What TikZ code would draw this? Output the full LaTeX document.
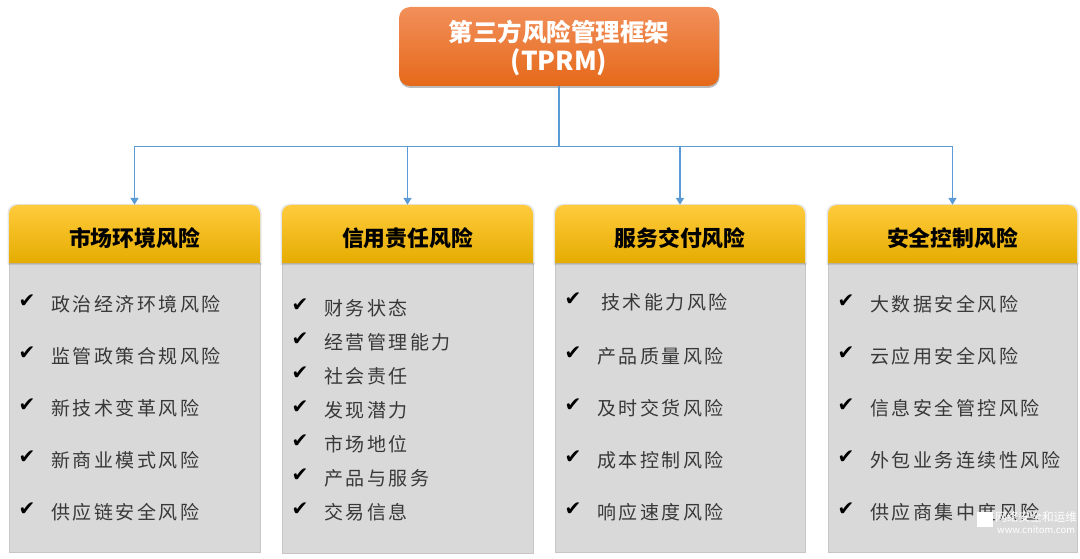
\documentclass[tikz,border=0pt]{standalone}
\usepackage{fontspec}
\setmainfont{Noto Sans CJK SC}
\newfontfamily\checkfont{DejaVu Sans}
\usetikzlibrary{arrows.meta,calc}
\definecolor{connblue}{HTML}{5B9BD5}
\definecolor{bodygray}{HTML}{D9D9D9}
\definecolor{headmid}{HTML}{FFC400}
\definecolor{headlow}{HTML}{E5AC00}
\definecolor{headtop}{HTML}{FFCB3C}
\definecolor{orangetop}{HTML}{F28F5A}
\definecolor{orangemid}{HTML}{F47C2C}
\definecolor{orangelow}{HTML}{E5691A}
\tikzset{
  titlebox/.style={minimum width=320pt,minimum height=76pt,inner sep=0pt,align=center,text=white,font=\fontsize{24.5pt}{29.5pt}\selectfont\bfseries},
  headbox/.style={minimum width=251pt,minimum height=66pt,inner sep=0pt,text=black,font=\fontsize{21.8pt}{26pt}\selectfont\bfseries},
  bodybox/.style={fill=bodygray,draw=gray!45,line width=0.5pt},
  itemtext/.style={anchor=west,inner sep=0pt,text=black!78,font=\fontsize{19pt}{23pt}\selectfont\addfontfeature{LetterSpace=13}},
  checkmark/.style={anchor=center,inner sep=0pt,text=black,font=\fontsize{20pt}{24pt}\checkfont},
  trunk/.style={draw=connblue,line width=2pt},
  branch/.style={draw=connblue,line width=1.7pt,-{Triangle[length=7pt,width=8pt]}}
}
\newcommand{\headshape}[3]{%
  \fill[black,opacity=.10] (#1-1.5,#3+2) [rounded corners=9pt] -- (#1-1.5,204) -- (#2+1.5,204) [sharp corners] -- (#2+1.5,#3+2) -- cycle;
  \shade[top color=headtop,middle color=headmid,bottom color=headlow]
    (#1,#3) [rounded corners=9pt] -- (#1,205) -- (#2,205) [sharp corners] -- (#2,#3) -- cycle;}
\newcommand{\rowitem}[5]{%
  \node[checkmark] (c#1) at (#2,#5-3) {✔};
  \node[itemtext] (t#1) at (#3,#5+0.5) {#4};}
\begin{document}
\begin{tikzpicture}[x=1pt,y=-1pt]
\useasboundingbox (0,0) rectangle (1080,559);
% title
\fill[black!60,opacity=.45,rounded corners=11pt] (399.5,10) rectangle (719.5,88);
\shade[rounded corners=11pt,top color=orangetop,middle color=orangemid,bottom color=orangelow] (399,7) rectangle (719,86);
\node[titlebox] (top) at (559,48) {第三方风险管理框架\\{\fontsize{26pt}{29.5pt}\selectfont (TPRM)}};
% bodies
\draw[bodybox] (9,263) rectangle (260,552);
\draw[bodybox] (282,263) rectangle (533,553);
\draw[bodybox] (555,263) rectangle (805,552);
\draw[bodybox] (828,263) rectangle (1077,552);
% heads
\headshape{9}{260}{263}
\headshape{282}{533}{263}
\headshape{555}{805}{263}
\headshape{828}{1077}{263}
\node[headbox] (h1) at (134.5,238) {市场环境风险};
\node[headbox] (h2) at (407.5,238) {信用责任风险};
\node[headbox,minimum width=250pt] (h3) at (680,238) {服务交付风险};
\node[headbox,minimum width=249pt] (h4) at (952.5,238) {安全控制风险};
% connectors
\coordinate (bus) at (559,146.5);
\draw[trunk] (top.south) -- (bus);
\draw[branch] (bus) -| (h1.north);
\draw[branch] (bus) -| (h2.north);
\draw[branch] (bus) -| (h3.north);
\draw[branch] (bus) -| (h4.north);
% column 1
\rowitem{a1}{27}{51}{政治经济环境风险}{304}
\rowitem{a2}{27}{51}{监管政策合规风险}{356}
\rowitem{a3}{27}{51}{新技术变革风险}{408}
\rowitem{a4}{27}{51}{新商业模式风险}{460}
\rowitem{a5}{27}{51}{供应链安全风险}{512}
% column 2
\rowitem{b1}{300}{324}{财务状态}{308}
\rowitem{b2}{300}{324}{经营管理能力}{342}
\rowitem{b3}{300}{324}{社会责任}{376}
\rowitem{b4}{300}{324}{发现潜力}{410}
\rowitem{b5}{300}{324}{市场地位}{444}
\rowitem{b6}{300}{324}{产品与服务}{478}
\rowitem{b7}{300}{324}{交易信息}{512}
% column 3
\rowitem{c1}{573}{601}{技术能力风险}{302}
\rowitem{c2}{573}{597}{产品质量风险}{356}
\rowitem{c3}{573}{597}{及时交货风险}{408}
\rowitem{c4}{573}{597}{成本控制风险}{460}
\rowitem{c5}{573}{597}{响应速度风险}{512}
% column 4
\rowitem{d1}{846}{870}{大数据安全风险}{304}
\rowitem{d2}{846}{870}{云应用安全风险}{356}
\rowitem{d3}{846}{870}{信息安全管控风险}{408}
\rowitem{d4}{846}{870}{外包业务连续性风险}{460}
\rowitem{d5}{846}{870}{供应商集中度风险}{512}
% watermark
\fill[white] (977,512) rectangle (993,527);
\node[anchor=west,inner sep=0pt,text=white,font=\fontsize{11.7pt}{13pt}\selectfont] (wm1) at (995,517) {网络安全和运维};
\node[anchor=west,inner sep=0pt,text=white,font=\fontsize{9.5pt}{11pt}\selectfont] (wm2) at (997,530) {www.cnitom.com};
\end{tikzpicture}
\end{document}
